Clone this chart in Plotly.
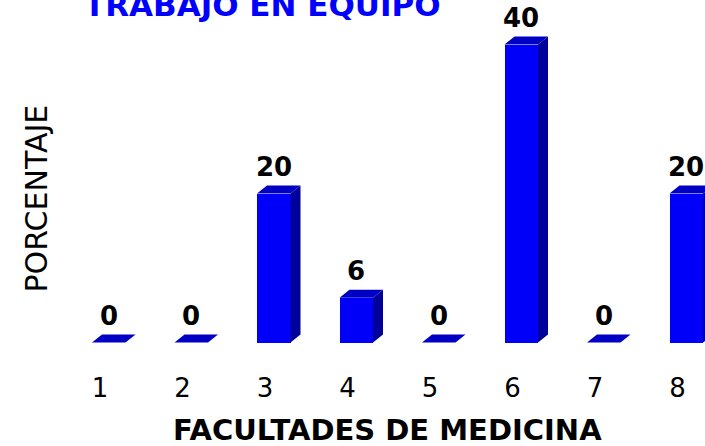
import plotly.graph_objects as go

# ---- data ----
categories = [1, 2, 3, 4, 5, 6, 7, 8]
values = [0, 0, 20, 6, 0, 40, 0, 20]
tick_labels = ["1", "2", "3", "4", "5", "6", "7", "8"]
title_text = "TRABAJO EN EQUIPO"
x_title = "FACULTADES DE MEDICINA"
y_title = "PORCENTAJE"

# ---- geometry / style ----
W, H = 705, 446
ML, MR, MT, MB = 70, 0, 0, 76
PW, PH = W - ML - MR, H - MT - MB
px_per_cat = 82.5          # pixels per category step
px_per_unit = 7.45         # pixels per percentage unit
bar_w = 33.5 / px_per_cat  # front face width (data units)
dx = 10.0 / px_per_cat     # depth offset in x (data units)
dy = 8.0 / px_per_unit     # depth offset in y (data units)
tick_off = 8.75 / px_per_cat

FRONT = "#0000FA"
TOP = "#0000C4"
SIDE = "#00009A"
FONT = "DejaVu Sans"

x0_px = 273.75
x_lo = 3 + (ML - x0_px) / px_per_cat
x_hi = 3 + (W - MR - x0_px) / px_per_cat
base_px = 342.5
y_hi = (base_px - MT) / px_per_unit
y_lo = -((H - MB) - base_px) / px_per_unit

fig = go.Figure()

# front faces
fig.add_trace(go.Bar(
    x=categories, y=values, width=bar_w,
    marker=dict(color=FRONT, line=dict(width=0)),
    hoverinfo="skip", showlegend=False,
))

# side faces
sx, sy = [], []
for c, v in zip(categories, values):
    r = c + bar_w / 2
    if v > 0:
        sx += [r, r, r + dx, r + dx, r, None]
        sy += [0, v, v + dy, dy, 0, None]
fig.add_trace(go.Scatter(
    x=sx, y=sy, mode="lines", fill="toself", fillcolor=SIDE,
    line=dict(width=0, color=SIDE), hoverinfo="skip", showlegend=False,
))

# top faces
tx, ty = [], []
for c, v in zip(categories, values):
    l = c - bar_w / 2
    r = c + bar_w / 2
    tx += [l, r, r + dx, l + dx, l, None]
    ty += [v, v, v + dy, v + dy, v, None]
fig.add_trace(go.Scatter(
    x=tx, y=ty, mode="lines", fill="toself", fillcolor=TOP,
    line=dict(width=0, color=TOP), hoverinfo="skip", showlegend=False,
))

# value labels
for c, v in zip(categories, values):
    fig.add_annotation(
        x=c, y=v + dy, xref="x", yref="y", text=f"<b>{v}</b>",
        showarrow=False, yanchor="bottom", yshift=2,
        font=dict(family=FONT, size=26, color="black"),
    )

# chart title (partly cut at top like the reference)
fig.add_annotation(
    x=(262 - ML) / PW, y=1, xref="paper", yref="paper",
    text=f"<b>{title_text}</b>", showarrow=False,
    xanchor="center", yanchor="middle", yshift=-5,
    font=dict(family=FONT, size=31, color="#0000FF"),
)

# y-axis title
fig.add_annotation(
    x=(35.5 - ML) / PW, y=(PH - 199) / PH, xref="paper", yref="paper",
    text=y_title, showarrow=False, textangle=-90,
    xanchor="center", yanchor="middle",
    font=dict(family=FONT, size=30, color="black"),
)

# x-axis title
fig.add_annotation(
    x=(387 - ML) / PW, y=(PH - 429.5) / PH, xref="paper", yref="paper",
    text=f"<b>{x_title}</b>", showarrow=False,
    xanchor="center", yanchor="middle",
    font=dict(family=FONT, size=29, color="black"),
)

fig.update_layout(
    width=W, height=H,
    margin=dict(l=ML, r=MR, t=MT, b=MB, autoexpand=False),
    paper_bgcolor="white", plot_bgcolor="white",
    bargap=0,
    xaxis=dict(
        range=[x_lo, x_hi], showgrid=False, zeroline=False, showline=False,
        tickmode="array", tickvals=[c - tick_off for c in categories],
        ticktext=tick_labels, ticks="",
        tickfont=dict(family=FONT, size=26, color="black"),
        automargin=False, fixedrange=True,
    ),
    yaxis=dict(
        range=[y_lo, y_hi], showgrid=False, zeroline=False, showline=False,
        showticklabels=False, ticks="",
        automargin=False, fixedrange=True,
    ),
    font=dict(family=FONT),
)

fig.write_html("out.html", config={"displayModeBar": False},
               post_script="document.body.style.margin='0px';")
